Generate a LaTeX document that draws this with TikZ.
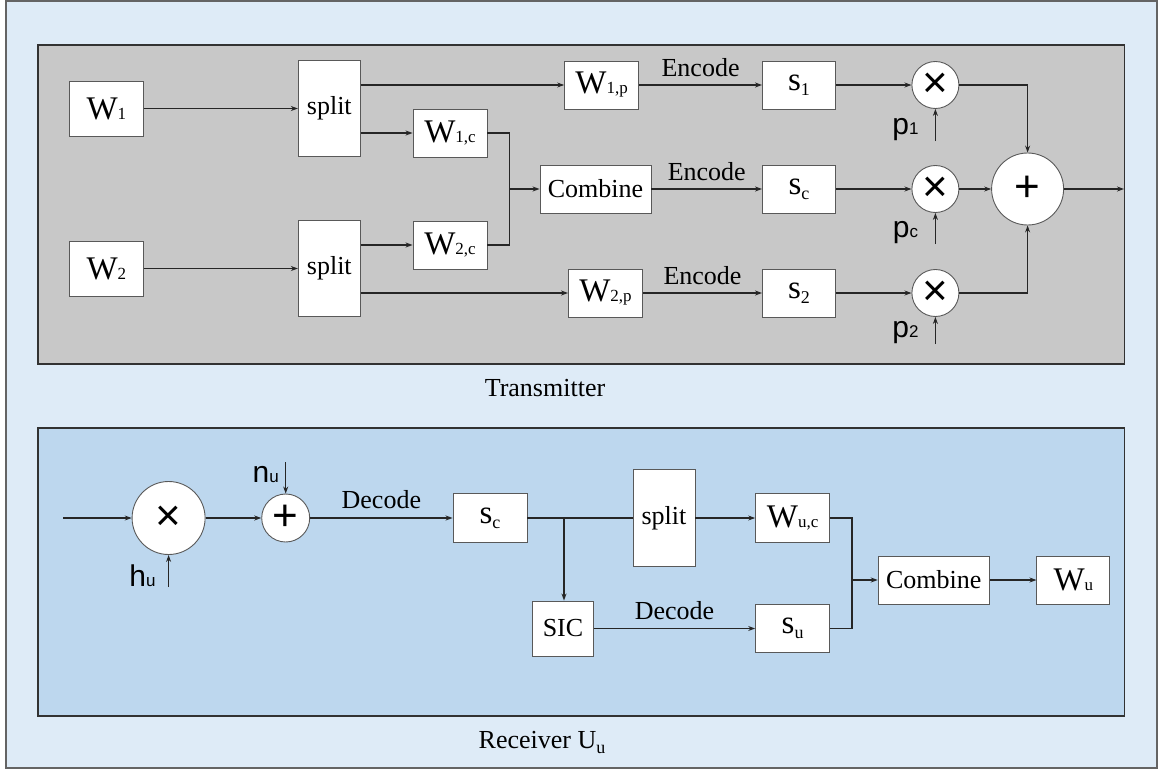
\documentclass[tikz,border=0pt]{standalone}
\usepackage{fontspec}
\setmainfont{Liberation Serif}
\newfontfamily\sansfont{Liberation Sans}
\usetikzlibrary{
	positioning,
	calc,
	arrows.meta
}
\definecolor{FrameBlue}{RGB}{222,235,247}
\definecolor{FrameEdge}{RGB}{100,100,100}
\definecolor{PanelGray}{RGB}{200,200,200}
\definecolor{PanelBlue}{RGB}{189,215,238}
\definecolor{PanelEdge}{RGB}{50,50,50}
\definecolor{BoxEdge}{RGB}{89,89,89}
\definecolor{WireDark}{RGB}{38,38,38}

\newcommand{\idx}[1]{{\fontsize{17}{17}\selectfont #1}}
\newcommand{\lowidx}[1]{\raisebox{-5pt}{\fontsize{18}{18}\selectfont #1}}
\newcommand{\bigletter}[1]{{\fontsize{33}{36}\selectfont #1}}

\tikzset{
	block/.style={draw=BoxEdge, line width=0.9pt, fill=white, inner sep=0pt,
		font=\fontsize{26}{30}\selectfont},
	mixer/.style={draw=BoxEdge, line width=0.9pt, fill=white, circle, inner sep=0pt,
		font=\sansfont\fontsize{44}{44}\selectfont},
	wire/.style={WireDark, line width=1.1pt},
	tag/.style={inner sep=0pt, text=black, font=\fontsize{26}{30}\selectfont},
	caption/.style={inner sep=0pt, font=\fontsize{26}{30}\selectfont},
	gain/.style={inner sep=0pt, anchor=base, font=\sansfont\fontsize{30}{30}\selectfont}
}

\begin{document}
\begin{tikzpicture}[x=1pt, y=-1pt, >={Stealth[length=7pt,width=5pt]}]
				
				\useasboundingbox (0,0) rectangle (1160,771);
				\draw[fill=FrameBlue, draw=FrameEdge, line width=1.5pt] (6,1) rectangle (1157,768);
				\draw[fill=PanelGray, draw=PanelEdge, line width=1.2pt] (38,45) rectangle (1124.5,364);
				\draw[fill=PanelBlue, draw=PanelEdge, line width=1.2pt] (38,428) rectangle (1124.5,716);
				
				\node[caption] (TxLabel) at (545,388) {Transmitter};
				\node[caption] (RxLabel) at (542,742) {Receiver U\lowidx{u}};
				
				\node[block, minimum width=74pt, minimum height=55pt] (W1) at (106.4,108.5) {\bigletter{W}\idx{1}};
				\node[block, minimum width=74pt, minimum height=55pt] (W2) at (106.4,268.5) {\bigletter{W}\idx{2}};
				
				\node[block, minimum width=62pt, minimum height=96pt] (S1) at (329.3,108.5) {split};
				\node[block, minimum width=62pt, minimum height=96pt] (S2) at (329.3,268.5) {split};
				
				\node[block, minimum width=74pt, minimum height=48pt] (W1c) at (450,133) {\bigletter{W}\idx{1,c}};
				\node[block, minimum width=74pt, minimum height=48pt] (W2c) at (450,245) {\bigletter{W}\idx{2,c}};
				\coordinate (Jc) at (509.3,189);
				
				\node[block, minimum width=74pt, minimum height=48pt] (W1p) at (601.6,85) {\bigletter{W}\idx{1,p}};
				\node[block, minimum width=111pt, minimum height=48pt] (Cmb) at (595.5,189) {Combine};
				\node[block, minimum width=74pt, minimum height=48pt] (W2p) at (605.5,293) {\bigletter{W}\idx{2,p}};
				
				\node[block, minimum width=73pt, minimum height=48pt] (X1) at (799,85) {\bigletter{s}\lowidx{1}};
				\node[block, minimum width=73pt, minimum height=48pt] (Xc) at (799,189) {\bigletter{s}\lowidx{c}};
				\node[block, minimum width=73pt, minimum height=48pt] (X2) at (799,293) {\bigletter{s}\lowidx{2}};
				
				\node[mixer, minimum size=47pt] (M1) at (935.4,85) {×};
				\node[mixer, minimum size=47pt] (Mc) at (935.4,189) {×};
				\node[mixer, minimum size=47pt] (M2) at (935.4,293) {×};
				\node[mixer, minimum size=72pt] (Add) at (1027.6,189) {+};
				\coordinate (Out) at (1124,189);
				
				\node[gain] (P1) at (905.5,134) {p\idx{1}};
				\node[gain] (Pc) at (905.5,237) {p\idx{c}};
				\node[gain] (P2) at (905.5,337) {p\idx{2}};
				\coordinate (P1in) at (935.4,141);
				\coordinate (Pcin) at (935.4,244);
				\coordinate (P2in) at (935.4,344);
				
				\draw[wire,->] (W1) -- (S1);
				\draw[wire,->] (W2) -- (S2);
				\draw[wire,->] (S1.east |- W1p) -- (W1p);
				\draw[wire,->] (S1.east |- W1c) -- (W1c);
				\draw[wire,->] (S2.east |- W2c) -- (W2c);
				\draw[wire,->] (S2.east |- W2p) -- (W2p);
				\draw[wire] (W1c) -| (Jc);
				\draw[wire] (W2c) -| (Jc);
				\draw[wire,->] (Jc) -- (Cmb);
				
				\draw[wire,->] (W1p) -- node[tag, above=8pt] (E1) {Encode} (X1);
				\draw[wire,->] (Cmb) -- node[tag, above=8pt] (Ec) {Encode} (Xc);
				\draw[wire,->] (W2p) -- node[tag, above=8pt] (E2) {Encode} (X2);
				
				\draw[wire,->] (X1) -- (M1);
				\draw[wire,->] (Xc) -- (Mc);
				\draw[wire,->] (X2) -- (M2);
				\draw[wire,->] (P1in) -- (M1);
				\draw[wire,->] (Pcin) -- (Mc);
				\draw[wire,->] (P2in) -- (M2);
				\draw[wire,->] (M1) -| (Add);
				\draw[wire,->] (Mc) -- (Add);
				\draw[wire,->] (M2) -| (Add);
				\draw[wire,->] (Add) -- (Out);
				
				\coordinate (RxIn) at (63,518);
				\node[mixer, minimum size=73pt] (RMul) at (168.6,518) {×};
				\node[mixer, minimum size=48pt] (RAdd) at (285.7,518) {+};
				\node[gain] (Hu) at (142.5,586) {h\idx{u}};
				\node[gain] (Nu) at (265.7,482) {n\idx{u}};
				\coordinate (HuIn) at (168.6,587);
				\coordinate (NuIn) at (285.7,462);
				
				\node[block, minimum width=74pt, minimum height=49pt] (RSc) at (490,518) {\bigletter{s}\lowidx{c}};
				\coordinate (Br) at (564,518);
				\node[block, minimum width=61pt, minimum height=55pt] (SIC) at (563,628.5) {SIC};
				\node[block, minimum width=62pt, minimum height=97pt] (RSplit) at (664,518) {split};
				\node[block, minimum width=74pt, minimum height=49pt] (Wuc) at (792.6,518) {\bigletter{W}\idx{u,c}};
				\node[block, minimum width=74pt, minimum height=48pt] (Su) at (792.6,628.5) {\bigletter{s}\lowidx{u}};
				\coordinate (Ju) at (852,580);
				\node[block, minimum width=111pt, minimum height=48pt] (RCmb) at (933.7,580) {Combine};
				\node[block, minimum width=73pt, minimum height=48pt] (Wu) at (1073.4,580) {\bigletter{W}\idx{u}};
				
				\draw[wire,->] (RxIn) -- (RMul);
				\draw[wire,->] (HuIn) -- (RMul);
				\draw[wire,->] (RMul) -- (RAdd);
				\draw[wire,->] (NuIn) -- (RAdd);
				\draw[wire,->] (RAdd) -- node[tag, above=9pt] (D1) {Decode} (RSc);
				\draw[wire] (RSc) -- (RSplit);
				\draw[wire,->] (Br) -- (Br |- SIC.north);
				\draw[wire,->] (SIC) -- node[tag, above=8pt] (D2) {Decode} (Su);
				\draw[wire,->] (RSplit) -- (Wuc);
				\draw[wire] (Wuc) -| (Ju);
				\draw[wire] (Su) -| (Ju);
				\draw[wire,->] (Ju) -- (RCmb);
				\draw[wire,->] (RCmb) -- (Wu);
				
			\end{tikzpicture}
\end{document}
